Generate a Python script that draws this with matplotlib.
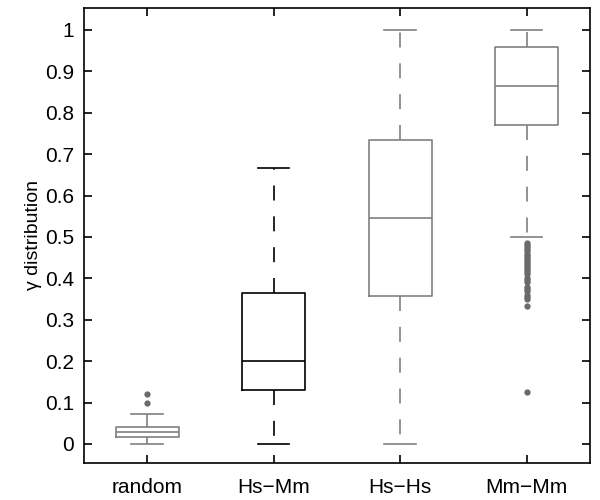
import matplotlib
matplotlib.use("Agg")
import matplotlib.pyplot as plt

categories = ["random", "Hs\u2212Mm", "Hs\u2212Hs", "Mm\u2212Mm"]
whislo = [0.0, 0.0, 0.0, 0.501]
q1 = [0.016, 0.131, 0.357, 0.770]
med = [0.028, 0.200, 0.546, 0.864]
q3 = [0.042, 0.365, 0.735, 0.960]
whishi = [0.073, 0.667, 1.0, 1.0]
fliers = [
    [0.100, 0.120],
    [],
    [],
    [0.485, 0.480, 0.475, 0.470, 0.465, 0.460, 0.455, 0.450, 0.444, 0.440,
     0.435, 0.430, 0.425, 0.420, 0.415, 0.410, 0.400, 0.395, 0.390, 0.380,
     0.375, 0.370, 0.360, 0.355, 0.350, 0.333, 0.125],
]
colors = ["#808080", "#000000", "#808080", "#808080"]
yticks = [0, 0.1, 0.2, 0.3, 0.4, 0.5, 0.6, 0.7, 0.8, 0.9, 1]
ytick_labels = ["0", "0.1", "0.2", "0.3", "0.4", "0.5", "0.6", "0.7", "0.8", "0.9", "1"]

plt.rcParams['font.family'] = ['Liberation Sans', 'DejaVu Sans']

fig = plt.figure(figsize=(6, 5), dpi=100)
ax = fig.add_axes([0.14, 0.074, 0.843, 0.91])

for i in range(len(categories)):
    stats = [dict(med=med[i], q1=q1[i], q3=q3[i], whislo=whislo[i],
                  whishi=whishi[i], fliers=fliers[i], label=categories[i])]
    c = colors[i]
    ax.bxp(stats, positions=[i + 1], widths=0.5,
           boxprops=dict(color=c, lw=1.2),
           medianprops=dict(color=c, lw=1.2),
           whiskerprops=dict(color=c, lw=1.2, linestyle=(0, (9, 9.5))),
           capprops=dict(color=c, lw=1.2),
           capwidths=0.25,
           flierprops=dict(marker='o', markersize=3.5, markerfacecolor='#6a6a6a',
                           markeredgecolor='#6a6a6a'))

ax.set_xlim(0.5, 4.5)
ax.set_ylim(-0.046, 1.053)
ax.set_xticks([1, 2, 3, 4])
ax.set_xticklabels(categories, fontsize=15)
ax.set_yticks(yticks)
ax.set_yticklabels(ytick_labels, fontsize=15)
ax.set_ylabel("\u03b3 distribution", fontsize=14, labelpad=2)
ax.tick_params(direction='in', top=True, right=True, length=6, width=1.2)
ax.tick_params(axis='x', pad=11)
ax.tick_params(axis='y', pad=7)
for s in ax.spines.values():
    s.set_linewidth(1.2)

fig.savefig("out.png", dpi=100)
